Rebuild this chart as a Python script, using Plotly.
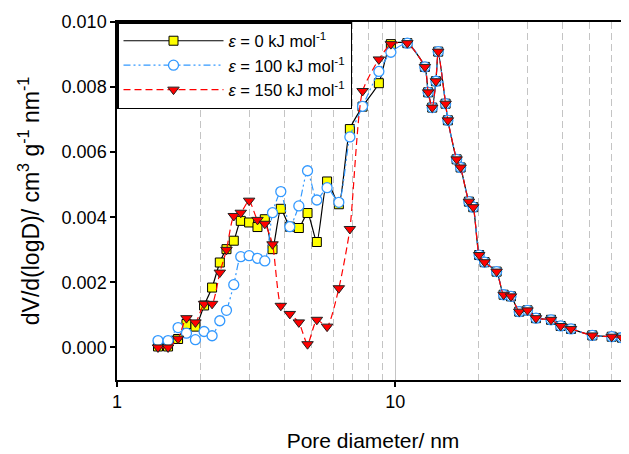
import plotly.graph_objects as go

# Pore diameters (nm)
pore_diameter = [1.404, 1.526, 1.658, 1.777, 1.914, 2.056, 2.197, 2.342, 2.475, 2.629,
                 2.786, 2.985, 3.199, 3.399, 3.623, 3.880, 4.181, 4.505, 4.841, 5.229,
                 5.692, 6.273, 6.873, 7.634, 8.738, 9.650, 11.06, 12.79, 13.14, 13.59,
                 14.01, 14.28, 15.18, 15.47, 16.63, 17.19, 18.41, 19.08, 20.04, 20.97,
                 23.16, 24.54, 26.08, 27.93, 29.90, 32.07, 36.32, 39.35, 42.86, 51.13,
                 60.03, 65.38]

# common tail (identical for all three series) from 11.06 nm on
tail = [0.00935, 0.00862, 0.00784, 0.00737, 0.00818, 0.00909, 0.00749, 0.00698,
        0.00578, 0.00553, 0.00448, 0.00431, 0.00284, 0.00262, 0.00233, 0.00162,
        0.00157, 0.00110, 0.00114, 0.00090, 0.00085, 0.00066, 0.00057, 0.00037,
        0.00033, 0.00030]

eps0_head = [0.00003, 0.00003, 0.00026, 0.00072, 0.00064, 0.00129, 0.00184, 0.00261,
             0.00302, 0.00328, 0.00389, 0.00384, 0.00370, 0.00394, 0.00302, 0.00426,
             0.00371, 0.00367, 0.00413, 0.00324, 0.00510, 0.00440, 0.00671, 0.00740,
             0.00812, 0.00932]
eps100_head = [0.00021, 0.00021, 0.00061, 0.00044, 0.00024, 0.00049, 0.00036, 0.00082,
               0.00114, 0.00193, 0.00279, 0.00282, 0.00274, 0.00266, 0.00414, 0.00479,
               0.00371, 0.00435, 0.00543, 0.00453, 0.00491, 0.00446, 0.00647, 0.00741,
               0.00848, 0.00907]
eps150_head = [0.00000, 0.00000, 0.00027, 0.00090, 0.00077, 0.00134, 0.00134, 0.00230,
               0.00300, 0.00404, 0.00414, 0.00451, 0.00392, 0.00380, 0.00317, 0.00128,
               0.00103, 0.00077, 0.00010, 0.00085, 0.00064, 0.00182, 0.00364, 0.00788,
               0.00885, 0.00932]

eps0 = eps0_head + tail
eps100 = eps100_head + tail
eps150 = eps150_head + tail

names = ["<i>ε</i> = 0 kJ mol<sup>-1</sup>",
         "<i>ε</i> = 100 kJ mol<sup>-1</sup>",
         "<i>ε</i> = 150 kJ mol<sup>-1</sup>"]

y_ticks = [0.000, 0.002, 0.004, 0.006, 0.008, 0.010]
x_major = [1, 10]
x_minor = [2, 3, 4, 5, 6, 7, 8, 9, 20, 30, 40, 50, 60, 70, 80, 90]

FONT = "Liberation Sans, Arial, sans-serif"
SMOOTH = 0.6

fig = go.Figure()
fig.add_trace(go.Scatter(
    x=pore_diameter, y=eps0, name=names[0], mode="lines+markers",
    line=dict(color="black", width=1.2, shape="spline", smoothing=SMOOTH),
    marker=dict(symbol="square", size=9, color="#ffff00",
                line=dict(color="black", width=1))))
fig.add_trace(go.Scatter(
    x=pore_diameter, y=eps100, name=names[1], mode="lines+markers",
    line=dict(color="#3399ff", width=1.2, shape="spline", smoothing=SMOOTH,
              dash="7px,3px,2px,3px,2px,3px"),
    marker=dict(symbol="circle", size=10, color="white",
                line=dict(color="#3399ff", width=1.3))))
fig.add_trace(go.Scatter(
    x=pore_diameter, y=eps150, name=names[2], mode="lines+markers",
    line=dict(color="#ff0000", width=1.2, shape="spline", smoothing=SMOOTH,
              dash="7px,4px"),
    marker=dict(symbol="triangle-down", size=10, color="#ff0000",
                line=dict(color="#222222", width=1))))

# The page body adds an 8px offset, so the figure is sized 8px smaller
fig.update_layout(
    width=621, height=446,
    margin=dict(l=109, r=0, t=14, b=73.5),
    paper_bgcolor="white", plot_bgcolor="white",
    font=dict(family=FONT, color="black", size=18),
    showlegend=True,
    legend=dict(x=0, y=1, xanchor="left", yanchor="top",
                bgcolor="white", bordercolor="black", borderwidth=1.5,
                font=dict(family=FONT, size=16.5, color="black"),
                itemwidth=100, tracegroupgap=0),
)

fig.update_xaxes(
    type="log", range=[0, 1.8406], automargin=False,
    tickvals=x_major, ticktext=["1", "10"],
    ticks="outside", ticklen=5, tickwidth=1.5, tickcolor="black",
    showline=True, linecolor="black", linewidth=1.5, mirror=True,
    showgrid=True, gridcolor="#c4c4c4", gridwidth=1.2,
    minor=dict(tickvals=x_minor, showgrid=True, gridcolor="#c4c4c4",
               gridwidth=1.2, griddash="7px,4px", ticks=""),
    tickfont=dict(size=18, family=FONT),
    title=dict(text="Pore diameter/ nm", font=dict(size=21, family=FONT), standoff=22),
    zeroline=False,
)
fig.update_yaxes(
    range=[-0.001, 0.010], automargin=False,
    tickvals=y_ticks, tickformat=".3f",
    ticks="outside", ticklen=5, tickwidth=1.5, tickcolor="black",
    showline=True, linecolor="black", linewidth=1.5, mirror=False,
    showgrid=False, zeroline=False,
    tickfont=dict(size=18, family=FONT),
    title=dict(text="dV/d(logD)/ cm<sup>3</sup> g<sup>-1</sup> nm<sup>-1</sup>",
               font=dict(size=23, family=FONT), standoff=16),
)

fig.write_html("out.html")
